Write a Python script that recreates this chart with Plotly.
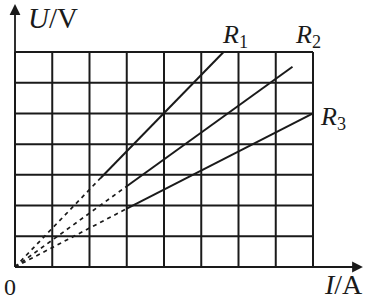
import plotly.graph_objects as go

# grid ticks (I in A, U in V) - 8 columns x 7 rows
I_ticks = [0, 1, 2, 3, 4, 5, 6, 7, 8]
U_ticks = [0, 1, 2, 3, 4, 5, 6, 7]

# lines: points (origin, start of solid part, end)
R1_I = [0, 2.3, 5.6]
R1_U = [0, 2.9, 7.0]
R2_I = [0, 3.0, 7.45]
R2_U = [0, 2.63, 6.52]
R3_I = [0, 3.0, 8.0]
R3_U = [0, 1.9, 5.0]

INK = "#1a1a1a"
FONT = "Liberation Serif"

fig = go.Figure()

# grid as traces limited to box
gx, gy = [], []
for x in I_ticks:
    gx += [x, x, None]
    gy += [U_ticks[0], U_ticks[-1], None]
for y in U_ticks:
    gx += [I_ticks[0], I_ticks[-1], None]
    gy += [y, y, None]
fig.add_trace(go.Scatter(x=gx, y=gy, mode="lines",
                         line=dict(color=INK, width=2), hoverinfo="skip"))

for I, U in [(R1_I, R1_U), (R2_I, R2_U), (R3_I, R3_U)]:
    fig.add_trace(go.Scatter(x=I[:2], y=U[:2], mode="lines",
                             line=dict(color=INK, width=1.7, dash="4px,4px")))
    fig.add_trace(go.Scatter(x=I[1:], y=U[1:], mode="lines",
                             line=dict(color=INK, width=2)))

# axes arrows
fig.add_annotation(x=0, y=8.56, ax=0, ay=0, xref="x", yref="y", axref="x", ayref="y",
                   showarrow=True, arrowhead=2, arrowsize=1.2, arrowwidth=1.8,
                   arrowcolor=INK, text="")
fig.add_annotation(x=9.34, y=0, ax=0, ay=0, xref="x", yref="y", axref="x", ayref="y",
                   showarrow=True, arrowhead=2, arrowsize=1.2, arrowwidth=1.8,
                   arrowcolor=INK, text="")

def txt(x, y, t, size):
    fig.add_annotation(x=x, y=y, xref="x", yref="y", text=t, showarrow=False,
                       font=dict(family=FONT, size=size, color=INK),
                       xanchor="center", yanchor="middle")

txt(1.02, 8.12, "<i>U</i>/V", 29)
txt(-0.134, -0.64, "0", 24)
txt(8.82, -0.56, "<i>I</i>/A", 28)
txt(5.906, 7.52, "<i>R</i><sub>1</sub>", 26)
txt(7.879, 7.52, "<i>R</i><sub>2</sub>", 26)
txt(8.55, 4.86, "<i>R</i><sub>3</sub>", 26)

fig.update_layout(
    width=367, height=298, margin=dict(l=0, r=0, t=0, b=0),
    paper_bgcolor="white", plot_bgcolor="white", showlegend=False,
    xaxis=dict(range=[-15/37.25, 352/37.25], visible=False, fixedrange=True),
    yaxis=dict(range=[-31/30.71, 267/30.71], visible=False, fixedrange=True),
)
fig.write_html("out.html")
